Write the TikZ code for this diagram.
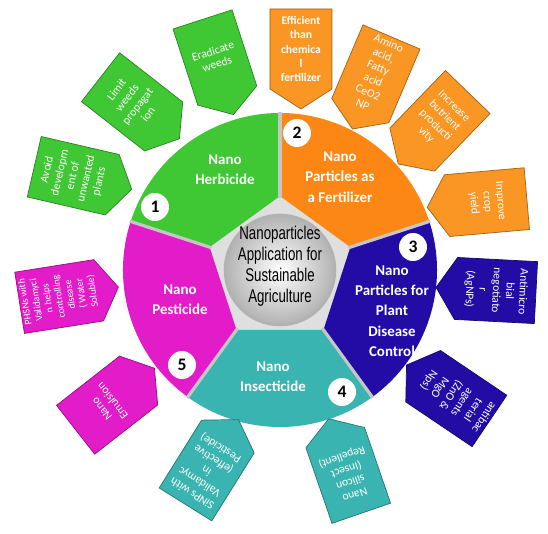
\documentclass[tikz,border=0pt]{standalone}
\usepackage{fontspec}
\setmainfont{Carlito}
\newfontfamily\narrowfont{Liberation Sans}[FakeStretch=0.72]

\definecolor{herbgreen}{RGB}{63,200,52}
\definecolor{fertorange}{RGB}{252,135,20}
\definecolor{tagorange}{RGB}{250,150,35}
\definecolor{plantblue}{RGB}{34,12,165}
\definecolor{insectteal}{RGB}{58,180,176}
\definecolor{pestpink}{RGB}{226,28,200}

\begin{document}
\begin{tikzpicture}[x=0.02cm, y=0.02cm,
        segtext/.style = {text=white, align=center,
            font=\fontsize{8.5}{11.6}\selectfont\bfseries},
        numcirc/.style = {circle, fill=white, inner sep=0pt,
            minimum size=0.56cm,
            font=\fontsize{10}{10}\selectfont\bfseries},
        tagtext/.style = {text=white, align=center, inner sep=0pt,
            font=\fontsize{6.6}{7.6}\selectfont},
        tagbold/.style = {tagtext, font=\fontsize{6.6}{8.2}\selectfont\bfseries},
        tagsmall/.style = {tagtext, font=\fontsize{5.6}{6.5}\selectfont}]

        % Background
        \fill[white] (-280,-264) rectangle (268,270);

        % Shadow round the hub
        \fill[gray!25] (0,0) circle (76);

        % Wheel segments
        \fill[herbgreen] (90:74) -- (90:157) arc (90:162:157) -- (162:74) -- cycle;
        \fill[fertorange] (18:74) -- (18:157) arc (18:90:157) -- (90:74) -- cycle;
        \fill[plantblue] (-54:74) -- (-54:157) arc (-54:18:157) -- (18:74) -- cycle;
        \fill[insectteal] (-126:74) -- (-126:157) arc (-126:-54:157) -- (-54:74) -- cycle;
        \fill[pestpink] (162:74) -- (162:157) arc (162:234:157) -- (234:74) -- cycle;

        % Gaps between segments
        \foreach \a in {90,18,-54,-126,162}
            \draw[gray!45, line width=1.8pt] (\a:72) -- (\a:158);

        % Segment labels
        \node[segtext] (herb) at (-55,100) {Nano\\Herbicide};
        \node[segtext] (fert) at (60,93) {Nano\\Particles as\\a Fertilizer};
        \node[segtext] (plant) at (112,-41) {Nano\\Particles for\\Plant\\Disease\\Control};
        \node[segtext] (insect) at (-7,-107) {Nano\\Insecticide};
        \node[segtext] (pest) at (-100,-30) {Nano\\Pesticide};

        % Numbers
        \node[numcirc] (n1) at (-125,63) {1};
        \node[numcirc] (n2) at (17,137) {2};
        \node[numcirc] (n3) at (133,23) {3};
        \node[numcirc] (n4) at (62,-122) {4};
        \node[numcirc] (n5) at (-98,-95) {5};

        % Hub
        \shade[inner color=white, outer color=gray!60] (0,0) circle (55);
        \draw[gray!60, line width=1.5pt] (0,0) circle (55);
        \node[align=center, font=\narrowfont\fontsize{10.5}{12}\selectfont] (hub) at (0,4)
            {Nanoparticles\\Application for\\Sustainable\\Agriculture};

        % Tags
        \foreach \x/\y/\ang/\col/\sty/\txt [count=\i] in {
            -197/92/77/herbgreen/tagtext/{Avoid\\developm\\ent of\\unwanted\\plants},
            -140/162/52/herbgreen/tagtext/{Limit\\weeds\\propagat\\ion},
            -62/203/18/herbgreen/tagtext/{Eradicate\\weeds},
            21/211/0/tagorange/tagbold/{Efficient\\than\\chemica\\l\\fertilizer},
            92/187/-23/tagorange/tagtext/{Amino\\acid,\\Fatty\\acid\\CeO2\\NP},
            153/142/-44/tagorange/tagtext/{Increase\\butrient\\producti\\vity},
            197/67/-85/tagorange/tagtext/{Improve\\crop\\yield},
            206/-20/-93/plantblue/tagtext/{Antimicro\\bial\\negotiato\\r\\(AgNPs)},
            168/-123/-124/plantblue/tagtext/{antibac\\terial\\agents\\(ZnO \&\\MgO\\Nps)},
            65/-196/199/insectteal/tagtext/{Nano\\silicon\\(Insect\\Repellent)},
            -68/-192/148/insectteal/tagtext/{SiNPs with\\Validamyc\\in\\(effective\\Pesticide)},
            -165/-129/128/pestpink/tagtext/{Nano\\Emulsion},
            -211/-25/99/pestpink/tagsmall/{PHSNs with\\Validamyci\\n helps\\controlling\\disease\\( Water\\Soluble)}}
        {
            \begin{scope}[shift={(\x,\y)}, rotate=\ang]
                \filldraw[fill=\col, draw=\col!65!black, line width=0.4pt]
                    (-31,50) -- (31,50) -- (31,-30) -- (0,-50) -- (-31,-30) -- cycle;
                \node[\sty, rotate=\ang] (tag\i) at (0,10) {\txt};
            \end{scope}
        }

    \end{tikzpicture}
\end{document}
